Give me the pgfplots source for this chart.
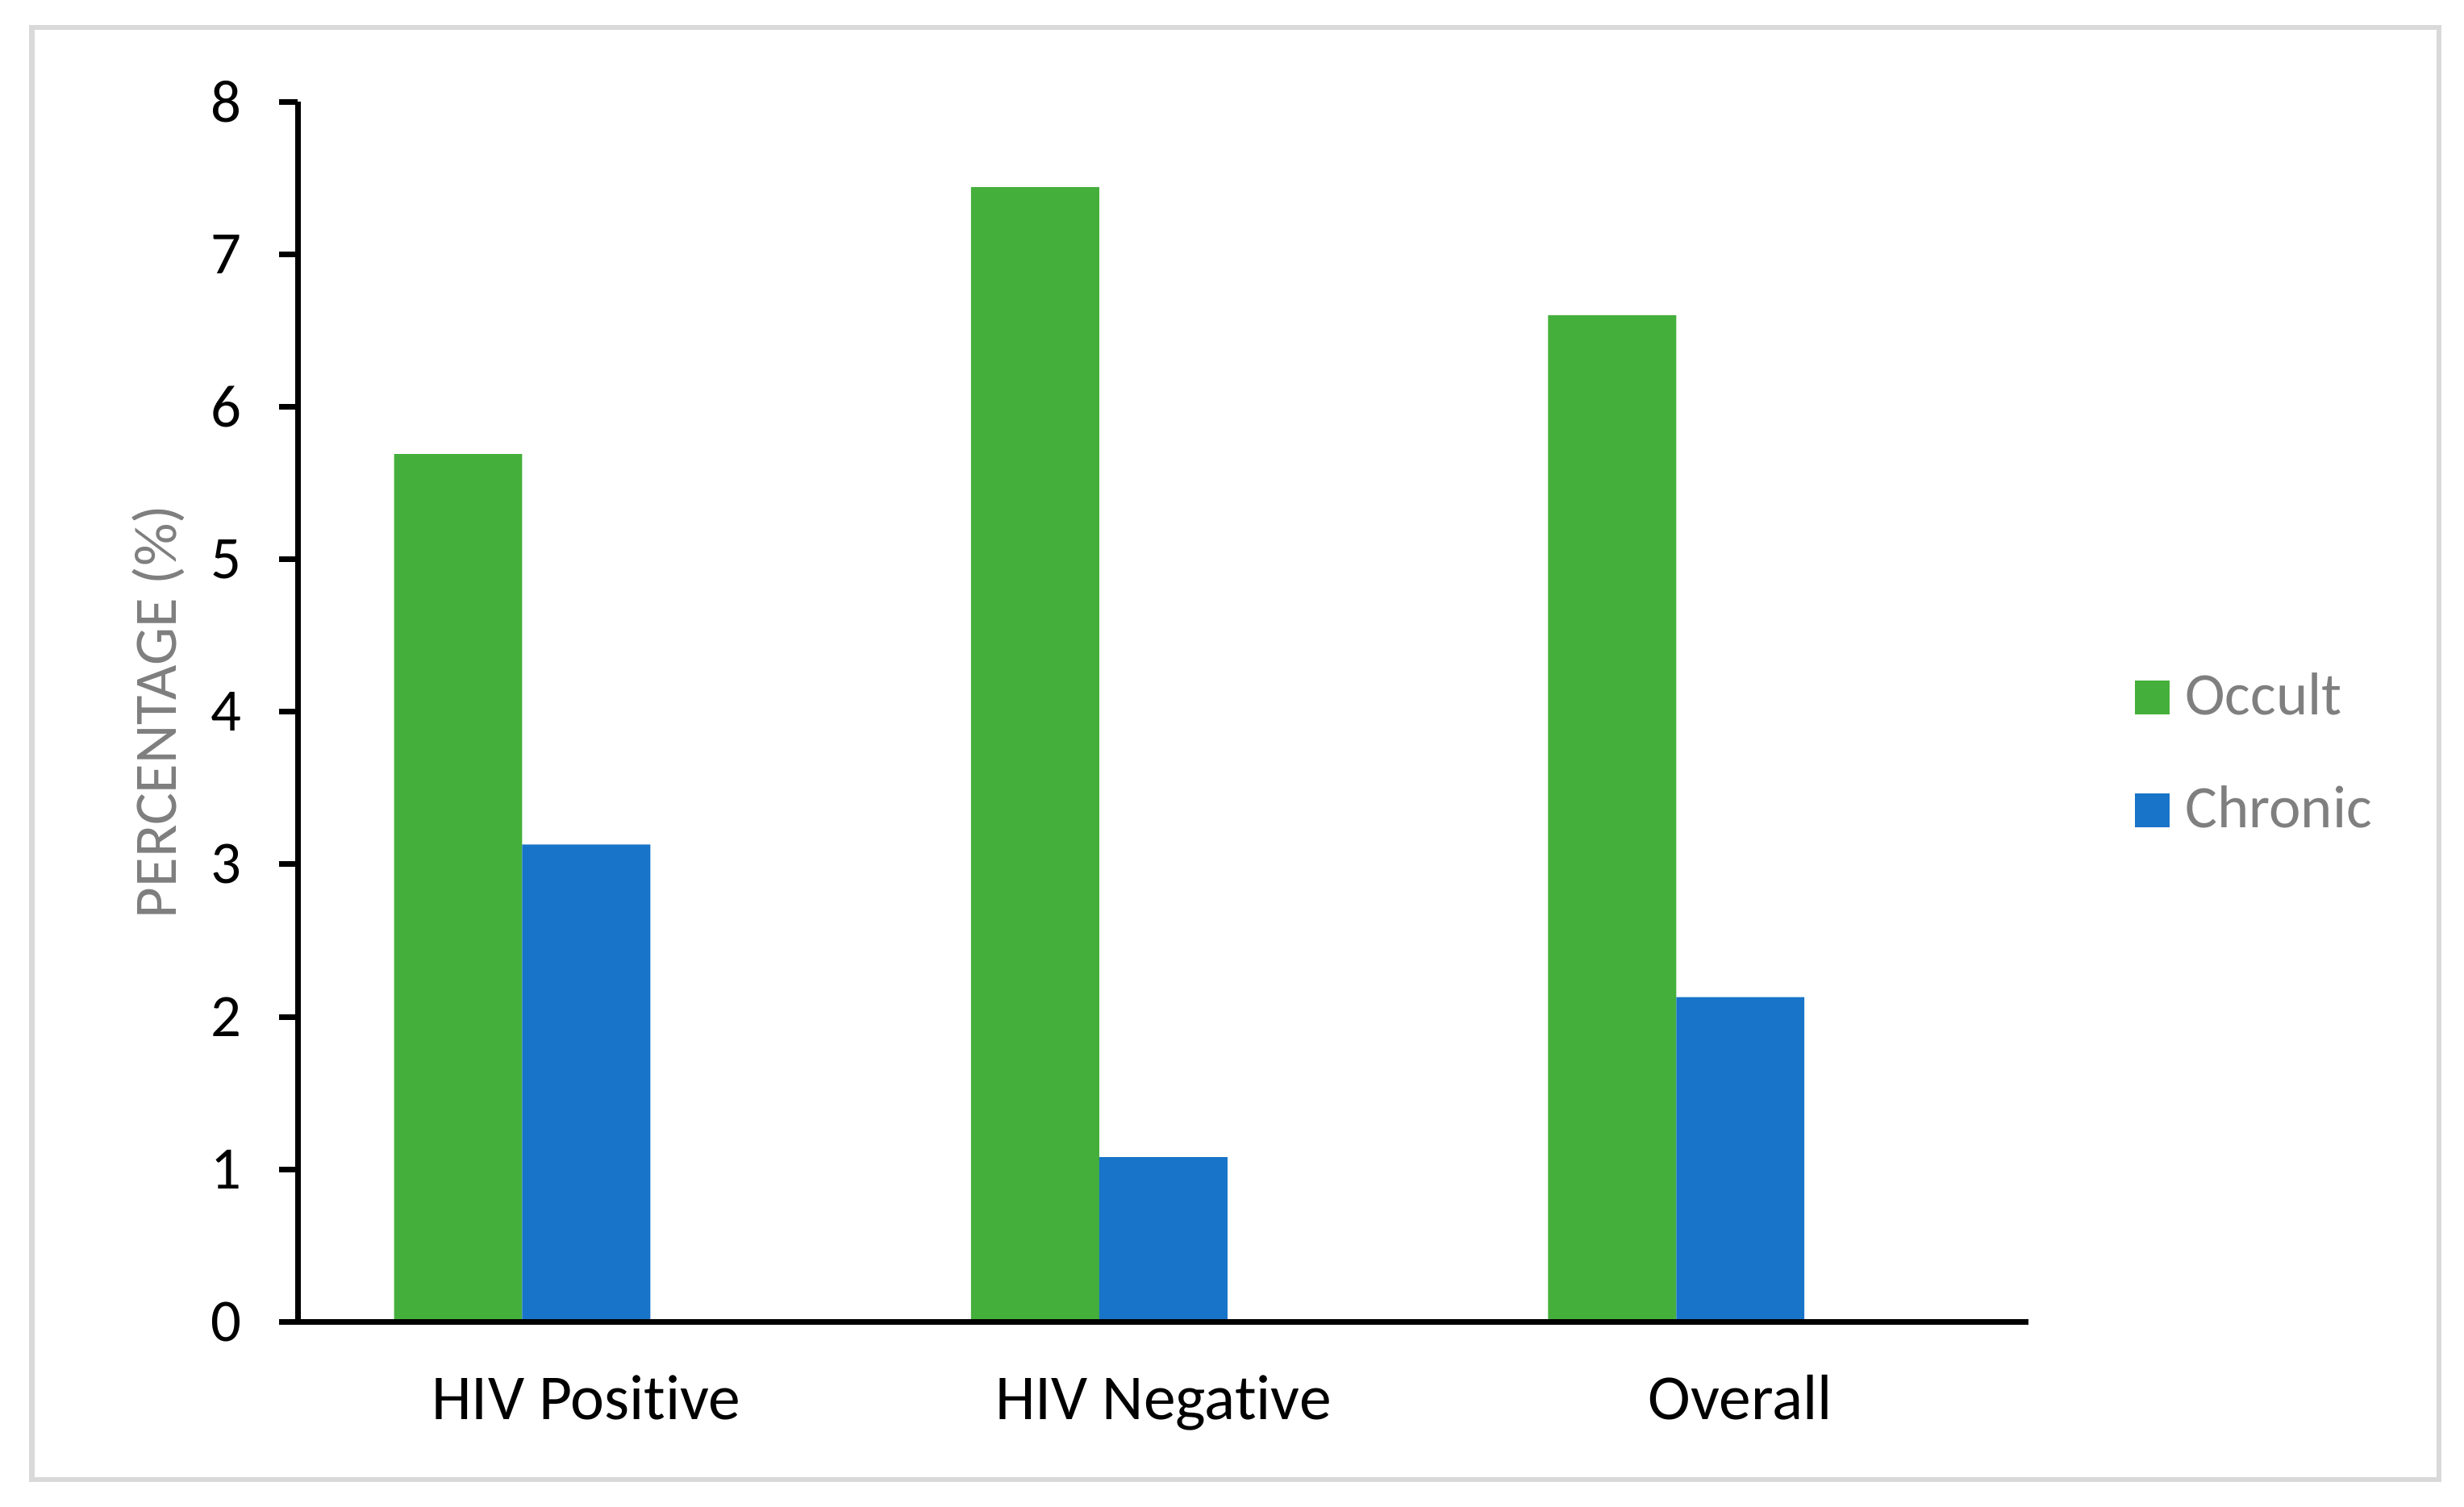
\documentclass[border=0pt]{standalone}
\usepackage{pgfplots}
\pgfplotsset{compat=1.18}
\usepackage{fontspec}
\setmainfont{Carlito}[Ligatures={NoCommon}]
\definecolor{occult}{RGB}{69,175,59}
\definecolor{chronic}{RGB}{24,116,200}
\definecolor{framegray}{RGB}{217,217,217}
\definecolor{labgray}{RGB}{127,127,127}
\begin{document}
\begin{tikzpicture}[font=\fontsize{9.6}{11.5}\selectfont]
\useasboundingbox (-47.375pt,-29.325pt) rectangle (344.625pt,210.375pt);
\draw[framegray, line width=0.8pt] (-42.3pt,-25.05pt) rectangle (340.6pt,206.0pt);
\begin{axis}[
  at={(0pt,0pt)}, anchor=south west,
  scale only axis,
  width=275.4pt, height=194.2pt,
  xmin=-0.5, xmax=2.5, ymin=0, ymax=8,
  axis x line*=bottom, axis y line*=left,
  axis line style={black, line width=0.9pt, -},
  axis on top,
  xtick={0,1,2},
  xticklabels={HIV Positive, HIV Negative, Overall},
  xtick style={draw=none},
  ytick={0,1,...,8},
  ytick style={black, line width=0.9pt},
  tick align=outside,
  major tick length=3pt,
  /pgf/number format/assume math mode=true,
  yticklabel style={anchor=east, inner sep=0pt, xshift=-5.7pt, text=black},
  xticklabel style={anchor=base, inner sep=0pt, yshift=-12.5pt, text=black, font=\fontsize{10.2}{12}\selectfont},
  ylabel={PERCENTAGE (\%)},
  ylabel style={at={(axis description cs:-0.0701,0.5)}, anchor=base, rotate=0, text=labgray},
  legend style={
    at={(axis description cs:1.0606,0.5273)}, anchor=north west,
    draw=none, fill=none, inner sep=0pt,
    row sep=12.4pt, column sep=2.5pt,
    nodes={inner sep=0pt, text height=5.6pt, text depth=0pt, text=labgray},
    cells={anchor=west},
  },
  legend image code/.code={\fill[#1] (0pt,-2.675pt) rectangle (5.5pt,2.675pt);},
]
\addplot[ybar, bar width=20.39pt, bar shift=-20.39pt, fill=occult, draw=none]
  coordinates {(0,5.69) (1,7.44) (2,6.60)};
\addlegendentry{Occult}
\addplot[ybar, bar width=20.39pt, bar shift=0pt, fill=chronic, draw=none]
  coordinates {(0,3.13) (1,1.08) (2,2.13)};
\addlegendentry{Chronic}
\end{axis}
\end{tikzpicture}
\end{document}
